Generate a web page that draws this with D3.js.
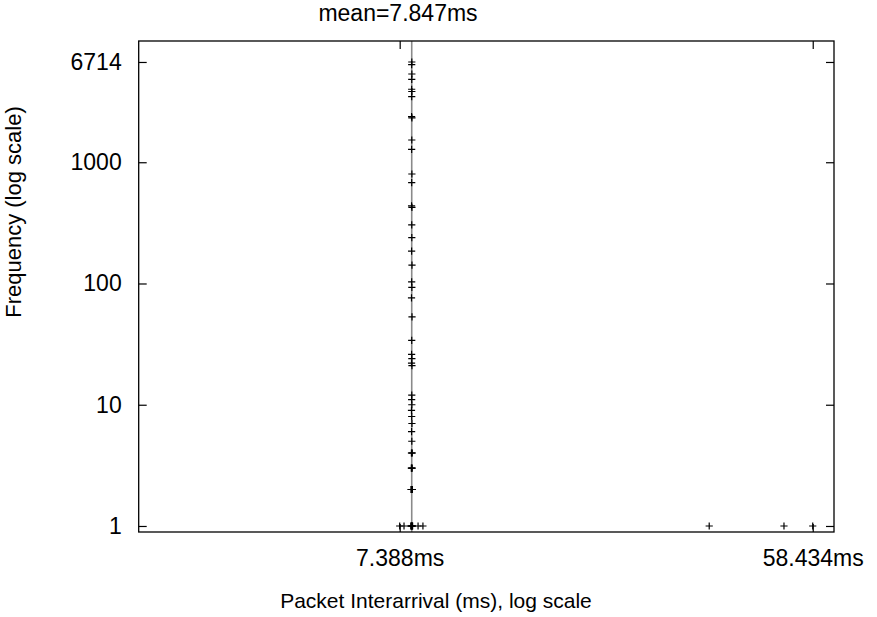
<!DOCTYPE html>
<html>
<head>
<meta charset="utf-8">
<script src="https://cdn.jsdelivr.net/npm/d3@7"></script>
<style>
  html, body { margin: 0; padding: 0; background: #fff; }
  svg text { font-family: "Liberation Sans", Arial, Helvetica, sans-serif; fill: #000; }
</style>
</head>
<body>
<svg id="chart" width="877" height="617"></svg>
<script>
// Histogram of packet interarrival times: each point is one distinct
// interarrival value (ms) and how many times it occurred.
const interarrivalMs = [
  7.850, 7.846, 7.852, 7.848, 7.845, 7.851, 7.847, 7.842, 7.854, 7.849,
  7.844, 7.853, 7.846, 7.841, 7.855, 7.848, 7.850, 7.843, 7.857, 7.845,
  7.852, 7.839, 7.858, 7.847, 7.843, 7.853, 7.840, 7.856, 7.849, 7.844,
  7.851, 7.838, 7.846, 7.855, 7.842, 7.850, 7.858, 7.836, 7.862,
  7.832, 7.848, 7.866, 7.828, 7.852, 7.870, 7.824, 7.847, 7.874,
  7.388, 7.550, 7.812, 7.826, 7.840, 7.854, 7.868, 7.882, 8.100, 8.300,
  34.80, 50.60, 58.434
];
const frequency = [
  6714, 6375, 5345, 4830, 4000, 3833, 3475, 2380, 2320, 1526,
  1279, 800, 678, 436, 425, 304, 239, 185, 142, 103,
  93, 76, 53, 34, 26, 24, 22, 21, 12, 11,
  10, 9, 8, 7, 6, 5, 4, 4, 4,
  3, 3, 3, 2, 2, 2, 2, 2, 2,
  1, 1, 1, 1, 1, 1, 1, 1, 1, 1,
  1, 1, 1
];

const MEAN_MS = 7.847;
const xTickValues = [7.388, 58.434];
const yTickValues = [1, 10, 100, 1000, 6714];
const titleText = "mean=" + MEAN_MS + "ms";
const xLabel = "Packet Interarrival (ms), log scale";
const yLabel = "Frequency (log scale)";

const svg = d3.select("#chart");
const plot = { left: 138.7, right: 834, top: 41, bottom: 532 };

const x = d3.scaleLog().domain([2.0, 65.0]).range([plot.left, plot.right]);
const y = d3.scaleLog().domain([0.892, 10000]).range([plot.bottom, plot.top]);

const points = interarrivalMs.map((v, i) => ({ ms: v, n: frequency[i] }));

// Vertical marker at the mean interarrival time
svg.append("line")
  .attr("x1", x(MEAN_MS)).attr("x2", x(MEAN_MS))
  .attr("y1", plot.top).attr("y2", plot.bottom)
  .attr("stroke", "#8a8a8a").attr("stroke-width", 1.6);

// Axes: ticks point inward, mirrored on top and right
const tickLen = 8;
const labelSize = 23;
const fmtY = d3.format("d");
const axisStyle = g => {
  g.select(".domain").remove();
  g.selectAll(".tick line").attr("stroke", "#000").attr("stroke-width", 1.2);
  g.selectAll(".tick text").attr("font-size", labelSize).attr("fill", "#000");
};

svg.append("g")
  .attr("transform", `translate(${plot.left},0)`)
  .call(d3.axisLeft(y).tickValues(yTickValues).tickFormat(fmtY)
    .tickSizeInner(-tickLen).tickSizeOuter(0).tickPadding(tickLen + 9))
  .call(axisStyle);

svg.append("g")
  .attr("transform", `translate(${plot.right},0)`)
  .call(d3.axisRight(y).tickValues(yTickValues).tickFormat("")
    .tickSizeInner(-tickLen).tickSizeOuter(0))
  .call(axisStyle);

svg.append("g")
  .attr("transform", `translate(0,${plot.bottom})`)
  .call(d3.axisBottom(x).tickValues(xTickValues).tickFormat(d => d + "ms")
    .tickSizeInner(-tickLen).tickSizeOuter(0).tickPadding(tickLen + 10))
  .call(axisStyle);

svg.append("g")
  .attr("transform", `translate(0,${plot.top})`)
  .call(d3.axisTop(x).tickValues(xTickValues).tickFormat("")
    .tickSizeInner(-tickLen).tickSizeOuter(0))
  .call(axisStyle);

svg.selectAll("g text").attr("font-family", null);

// Plot border
svg.append("rect")
  .attr("x", plot.left).attr("y", plot.top)
  .attr("width", plot.right - plot.left).attr("height", plot.bottom - plot.top)
  .attr("fill", "none").attr("stroke", "#000").attr("stroke-width", 1.3);

// "+" markers
const arm = 3.6;
svg.append("g")
  .attr("stroke", "#000").attr("stroke-width", 1.2).attr("fill", "none")
  .selectAll("path")
  .data(points)
  .join("path")
  .attr("d", d => {
    const cx = x(d.ms), cy = y(d.n);
    return `M${cx - arm},${cy}H${cx + arm}M${cx},${cy - arm}V${cy + arm}`;
  });

// Title and axis labels
svg.append("text")
  .attr("x", 398).attr("y", 21)
  .attr("text-anchor", "middle").attr("font-size", labelSize)
  .text(titleText);

svg.append("text")
  .attr("x", 436).attr("y", 608)
  .attr("text-anchor", "middle").attr("font-size", 21)
  .text(xLabel);

svg.append("text")
  .attr("transform", "translate(21,212) rotate(-90)")
  .attr("text-anchor", "middle").attr("font-size", 22)
  .text(yLabel);
</script>
</body>
</html>
